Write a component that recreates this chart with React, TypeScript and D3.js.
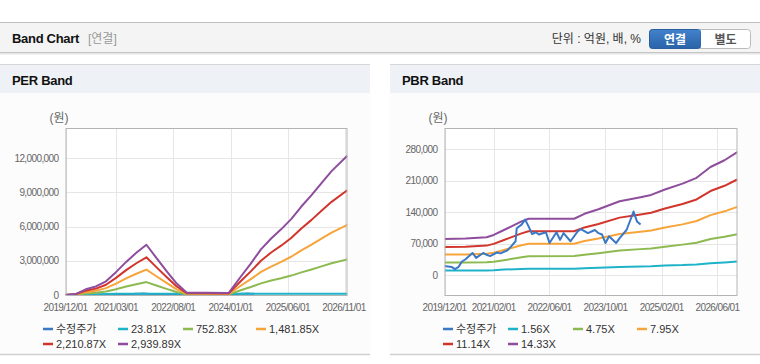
import React from "react";
import * as d3 from "d3";

const FONT = "'Liberation Sans', Arial, 'Noto Sans CJK KR', sans-serif";

const X_START = "2019-12-01";
const X_END = "2026-11-22";

// 수정주가 (원)
const priceDates = [
  "2019-12-01", "2020-01-01", "2020-02-01", "2020-03-01", "2020-04-01", "2020-05-01",
  "2020-06-01", "2020-08-01", "2020-09-01", "2020-11-01", "2020-12-01", "2021-01-01",
  "2021-03-01", "2021-04-01", "2021-06-01", "2021-07-01", "2021-08-10", "2021-08-20",
  "2021-10-01", "2021-11-01", "2021-12-01", "2022-01-01", "2022-02-01", "2022-03-01",
  "2022-05-01", "2022-06-01", "2022-08-01", "2022-09-01", "2022-10-01", "2022-12-01",
  "2023-02-01", "2023-03-01", "2023-05-01", "2023-07-01", "2023-08-01", "2023-09-01",
  "2023-10-01", "2023-11-01", "2024-01-01", "2024-02-01", "2024-04-01", "2024-05-01",
  "2024-06-01", "2024-07-01", "2024-08-01",
];
const priceValues = [
  20000, 19000, 18000, 13000, 18000, 30000,
  35000, 49000, 38000, 49000, 45000, 42000,
  50000, 48000, 55000, 63000, 75000, 104000,
  112000, 123000, 108000, 91000, 95000, 90000,
  95000, 71000, 95000, 78000, 93000, 75000,
  97000, 102000, 93000, 100000, 93000, 90000,
  71000, 86000, 71000, 82000, 100000, 120000,
  141000, 119000, 112000,
];

// PER band
const perDates = [
  "2019-12-01", "2020-03-01", "2020-06-01", "2020-09-01", "2020-12-01", "2021-03-01",
  "2021-06-01", "2021-09-01", "2021-12-01", "2022-03-01", "2022-06-01", "2022-09-01",
  "2022-12-01", "2023-06-01", "2023-12-15", "2024-04-01", "2024-07-01", "2024-10-01",
  "2025-01-01", "2025-04-01", "2025-07-01", "2025-10-01", "2026-01-01", "2026-04-01",
  "2026-07-01", "2026-11-20",
];
const perBand1 = [
  0, 10000, 30000, 50000, 80000, 110000, 120000, 120000, 120000, 120000, 120000, 120000,
  120000, 120000, 120000, 120000, 120000, 120000, 120000, 120000, 120000, 120000, 120000,
  120000, 120000, 120000,
];
const perBand2 = [
  0, 20000, 130000, 190000, 310000, 510000, 740000, 950000, 1130000, 830000, 540000, 260000,
  50000, 50000, 50000, 410000, 700000, 1020000, 1270000, 1470000, 1700000, 1980000, 2240000,
  2510000, 2780000, 3120000,
];
const perBand3 = [
  0, 40000, 250000, 380000, 600000, 1000000, 1460000, 1860000, 2220000, 1640000, 1060000, 500000,
  100000, 100000, 90000, 810000, 1390000, 2020000, 2490000, 2900000, 3350000, 3900000, 4410000,
  4940000, 5470000, 6150000,
];
const perBand4 = [
  0, 60000, 380000, 560000, 900000, 1500000, 2180000, 2780000, 3300000, 2440000, 1580000, 750000,
  150000, 150000, 140000, 1200000, 2070000, 3000000, 3720000, 4320000, 5000000, 5830000, 6580000,
  7370000, 8160000, 9170000,
];
const perBand5 = [
  0, 80000, 500000, 750000, 1200000, 2000000, 2900000, 3700000, 4400000, 3250000, 2100000, 1000000,
  200000, 200000, 180000, 1600000, 2750000, 4000000, 4950000, 5750000, 6650000, 7750000, 8750000,
  9800000, 10850000, 12200000,
];
const perLabels = ["수정주가", "23.81X", "752.83X", "1,481.85X", "2,210.87X", "2,939.89X"];
const perYTicks = [0, 3000000, 6000000, 9000000, 12000000];
const perXTicks = ["2019-12-01", "2021-03-01", "2022-08-01", "2024-01-01", "2025-06-01", "2026-11-01"];
const perXTickLabels = ["2019/12/01", "2021/03/01", "2022/08/01", "2024/01/01", "2025/06/01", "2026/11/01"];

// PBR band
const pbrDates = [
  "2019-12-01", "2020-06-01", "2020-12-01", "2021-02-01", "2021-05-01", "2021-10-01",
  "2021-12-01", "2023-01-01", "2023-04-01", "2023-08-01", "2024-02-01", "2024-08-01",
  "2024-11-01", "2025-03-01", "2025-08-01", "2025-12-01", "2026-04-01", "2026-08-01",
  "2026-11-20",
];
const pbrBand1 = [
  10000, 10000, 10000, 10500, 12000, 13500, 14000, 14000, 15000, 16000, 18000, 19000,
  19500, 21000, 22000, 23500, 26000, 28000, 30000,
];
const pbrBand2 = [
  28000, 28000, 28500, 29500, 33000, 39500, 41500, 42000, 45000, 48500, 54500, 57500,
  59000, 63000, 67500, 71500, 80000, 85000, 90500,
];
const pbrBand3 = [
  45500, 45500, 47000, 49500, 55500, 66000, 69500, 69500, 75500, 81000, 91000, 96000,
  99000, 105500, 112500, 120000, 133000, 141500, 151500,
];
const pbrBand4 = [
  62000, 63000, 65300, 69200, 77700, 92500, 97200, 97200, 105700, 113500, 127500, 134500,
  138400, 147700, 157800, 167900, 186600, 198200, 212200,
];
const pbrBand5 = [
  80000, 81000, 84000, 89000, 100000, 119000, 125000, 125000, 136000, 146000, 164000, 173000,
  178000, 190000, 203000, 216000, 240000, 255000, 273000,
];
const pbrLabels = ["수정주가", "1.56X", "4.75X", "7.95X", "11.14X", "14.33X"];
const pbrYTicks = [0, 70000, 140000, 210000, 280000];
const pbrXTicks = ["2019-12-01", "2021-02-01", "2022-06-01", "2023-10-01", "2025-02-01", "2026-06-01"];
const pbrXTickLabels = ["2019/12/01", "2021/02/01", "2022/06/01", "2023/10/01", "2025/02/01", "2026/06/01"];

const seriesColors = ["#3a78c6", "#1fb3c9", "#8dba50", "#f7a43a", "#d1352c", "#8e4d9d"];

const parse = d3.timeParse("%Y-%m-%d");

type ChartProps = {
  id: string;
  panelX: number;
  panelW: number;
  title: string;
  left: number;
  right: number;
  top: number;
  bottom: number;
  yDomain: [number, number];
  yTicks: number[];
  xTicks: string[];
  xTickLabels: string[];
  bandDates: string[];
  bands: number[][];
  labels: string[];
  priceOnTop: boolean;
  legendCols: number[];
};

function Chart(p: ChartProps) {
  const x = d3.scaleTime().domain([parse(X_START)!, parse(X_END)!]).range([p.left, p.right]);
  const y = d3.scaleLinear().domain(p.yDomain).range([p.bottom, p.top]);
  const line = d3
    .line<[Date, number]>()
    .x((d) => x(d[0]))
    .y((d) => y(d[1]));
  const fmt = d3.format(",");
  const bandPaths = p.bands.map((vals, i) =>
    line(p.bandDates.map((d, j) => [parse(d)!, vals[j]] as [Date, number]))
  );
  const pricePath = line(priceDates.map((d, j) => [parse(d)!, priceValues[j]] as [Date, number]));
  const panelRight = p.panelX + p.panelW;
  const clipId = `clip-${p.id}`;

  const priceEl = (
    <path d={pricePath || ""} fill="none" stroke={seriesColors[0]} strokeWidth={2} strokeLinejoin="round" />
  );

  return (
    <g>
      {/* panel */}
      <rect x={p.panelX} y={64} width={p.panelW} height={290} fill="#fcfcfc" />
      <rect x={p.panelX} y={64.5} width={p.panelW} height={28.5} fill="#eef2f7" />
      <line x1={p.panelX} x2={panelRight} y1={64.5} y2={64.5} stroke="#d6d6d6" />
      <line x1={p.panelX} x2={panelRight} y1={354.5} y2={354.5} stroke="#cfcfcf" strokeWidth={1.5} />
      <text x={p.panelX + 12} y={85} fontFamily={FONT} fontSize={13} fontWeight="bold" fill="#111" letterSpacing={-0.3}>
        {p.title}
      </text>
      <text x={p.left - 16} y={122} fontFamily={FONT} fontSize={12} fill="#666">
        (원)
      </text>
      <defs>
        <clipPath id={clipId}>
          <rect x={p.left} y={p.top} width={p.right - p.left} height={p.bottom - p.top} />
        </clipPath>
      </defs>
      <rect x={p.left} y={p.top} width={p.right - p.left} height={p.bottom - p.top} fill="#ffffff" />
      {/* grid */}
      {p.yTicks.map((t) => (
        <line key={`gy${t}`} x1={p.left} x2={p.right} y1={Math.round(y(t)) + 0.5} y2={Math.round(y(t)) + 0.5} stroke="#e6e6e6" />
      ))}
      {p.xTicks.map((t) => (
        <line
          key={`gx${t}`}
          x1={Math.round(x(parse(t)!)) + 0.5}
          x2={Math.round(x(parse(t)!)) + 0.5}
          y1={p.top}
          y2={p.bottom}
          stroke="#e6e6e6"
        />
      ))}
      {/* series */}
      <g clipPath={`url(#${clipId})`}>
        {!p.priceOnTop && priceEl}
        {bandPaths.map((d, i) => (
          <path key={i} d={d || ""} fill="none" stroke={seriesColors[i + 1]} strokeWidth={2} strokeLinejoin="round" />
        ))}
        {p.priceOnTop && priceEl}
      </g>
      <rect
        x={p.left + 0.5}
        y={p.top + 0.5}
        width={p.right - p.left - 1}
        height={p.bottom - p.top}
        fill="none"
        stroke="#b4b4b4"
      />
      {/* y labels */}
      {p.yTicks.map((t) => (
        <text
          key={`ly${t}`}
          x={p.left - 7}
          y={y(t) + 3.5}
          textAnchor="end"
          fontFamily={FONT}
          fontSize={10}
          letterSpacing={-0.6}
          fill="#666"
        >
          {fmt(t)}
        </text>
      ))}
      {/* x labels */}
      {p.xTicks.map((t, i) => {
        const cx = Math.min(x(parse(t)!), panelRight - 26);
        return (
          <text
            key={`lx${t}`}
            x={cx}
            y={311}
            textAnchor="middle"
            fontFamily={FONT}
            fontSize={10}
            letterSpacing={-0.6}
            fill="#666"
          >
            {p.xTickLabels[i]}
          </text>
        );
      })}
      {/* legend */}
      {p.labels.map((lab, i) => {
        const row = i < 4 ? 0 : 1;
        const col = i < 4 ? i : i - 4;
        const lx = p.legendCols[col];
        const ly = row === 0 ? 329 : 344;
        return (
          <g key={`lg${i}`}>
            <line x1={lx} x2={lx + 10} y1={ly} y2={ly} stroke={seriesColors[i]} strokeWidth={2.5} />
            <text x={lx + 13} y={ly + 4} fontFamily={FONT} fontSize={11} fill="#333">
              {lab}
            </text>
          </g>
        );
      })}
    </g>
  );
}

export default function App() {
  return (
    <div style={{ position: "absolute", left: 0, top: 0 }}>
      <svg width={760} height={364} style={{ display: "block", background: "#ffffff" }}>
        <defs>
          <linearGradient id="btnBlue" x1="0" y1="0" x2="0" y2="1">
            <stop offset="0" stopColor="#4282cc" />
            <stop offset="1" stopColor="#2a63a8" />
          </linearGradient>
        </defs>
        {/* top header */}
        <rect x={0} y={23} width={760} height={29.5} fill="#f4f4f4" />
        <line x1={0} x2={760} y1={22.5} y2={22.5} stroke="#bdbdbd" />
        <line x1={0} x2={760} y1={52.5} y2={52.5} stroke="#c6c6c6" />
        <line x1={0} x2={760} y1={53.5} y2={53.5} stroke="#e4e4e4" />
        <line x1={0} x2={760} y1={54.5} y2={54.5} stroke="#f3f3f3" />
        <text x={12} y={43} fontFamily={FONT} fontSize={13} fontWeight="bold" fill="#111" letterSpacing={-0.3}>
          Band Chart
        </text>
        <text x={88} y={43} fontFamily={FONT} fontSize={12} fill="#999">
          [연결]
        </text>
        <text x={641} y={43} textAnchor="end" fontFamily={FONT} fontSize={12} fill="#333">
          단위 : 억원, 배, %
        </text>
        <rect x={649.5} y={29.5} width={101} height={19} rx={3} fill="#ffffff" stroke="#bbbbbb" />
        <rect x={649.5} y={29.5} width={51} height={19} rx={3} fill="url(#btnBlue)" stroke="#2a5e9e" />
        <rect x={692} y={30} width={8.5} height={18} fill="url(#btnBlue)" />
        <text x={675} y={43.5} textAnchor="middle" fontFamily={FONT} fontSize={12} fontWeight="bold" fill="#ffffff">
          연결
        </text>
        <text x={725.5} y={43.5} textAnchor="middle" fontFamily={FONT} fontSize={12} fontWeight="bold" fill="#555">
          별도
        </text>

        <Chart
          id="per"
          panelX={0}
          panelW={370}
          title="PER Band"
          left={65.5}
          right={347.5}
          top={128}
          bottom={295}
          yDomain={[0, 14628000]}
          yTicks={perYTicks}
          xTicks={perXTicks}
          xTickLabels={perXTickLabels}
          bandDates={perDates}
          bands={[perBand1, perBand2, perBand3, perBand4, perBand5]}
          labels={perLabels}
          priceOnTop={false}
          legendCols={[43, 118, 183, 256]}
        />
        <Chart
          id="pbr"
          panelX={390}
          panelW={370}
          title="PBR Band"
          left={444.5}
          right={737.5}
          top={128}
          bottom={295}
          yDomain={[-44440, 326670]}
          yTicks={pbrYTicks}
          xTicks={pbrXTicks}
          xTickLabels={pbrXTickLabels}
          bandDates={pbrDates}
          bands={[pbrBand1, pbrBand2, pbrBand3, pbrBand4, pbrBand5]}
          labels={pbrLabels}
          priceOnTop={true}
          legendCols={[443, 508, 573, 637]}
        />
      </svg>
    </div>
  );
}
